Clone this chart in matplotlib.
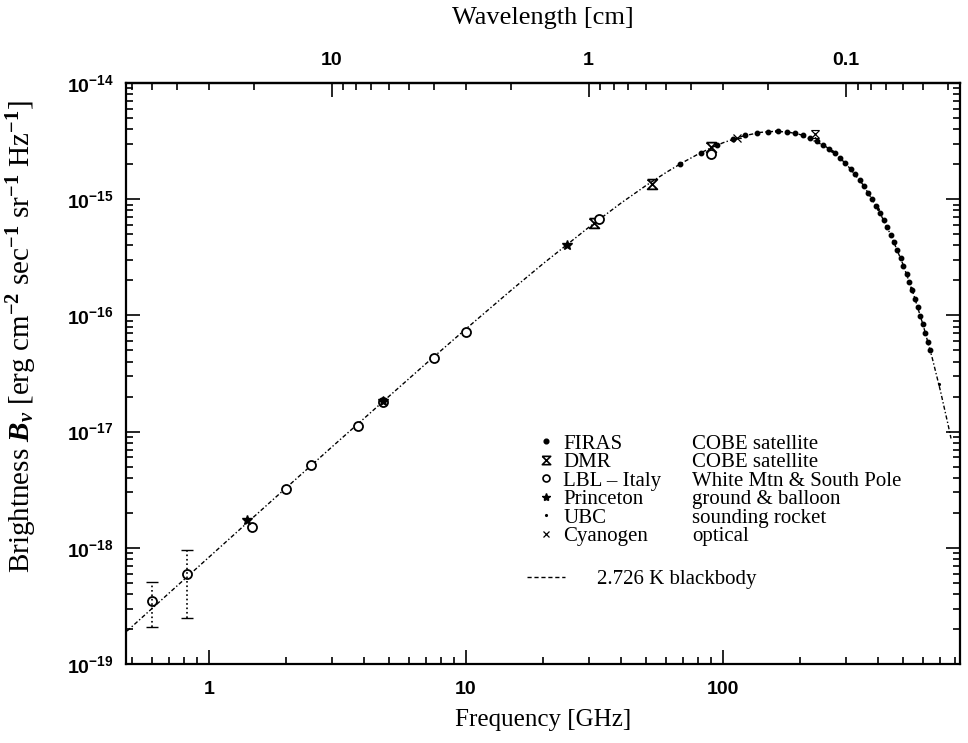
"""Cosmic background spectrum: measured brightness against a 2.726 K blackbody."""

import matplotlib
matplotlib.use("Agg")
import matplotlib.pyplot as plt
import numpy as np
from matplotlib.lines import Line2D
from matplotlib.ticker import FixedLocator, FuncFormatter, LogLocator, NullFormatter


# Section: values (frequency in GHz, brightness in cgs units).
bb_freq = [0.48, 0.7, 1, 1.5, 2, 3, 5, 7, 10, 15, 20, 30, 40, 50, 60, 70, 80, 90, 100,
           120, 140, 160, 180, 200, 250, 300, 350, 400, 450, 500, 550, 600, 650, 700, 750, 770]
bb_bright = [1.92e-19, 4.08e-19, 8.30e-19, 1.86e-18, 3.29e-18, 7.34e-18, 2.00e-17, 3.86e-17,
             7.66e-17, 1.65e-16, 2.80e-16, 5.72e-16, 9.23e-16, 1.306e-15, 1.698e-15, 2.082e-15,
             2.444e-15, 2.773e-15, 3.062e-15, 3.505e-15, 3.760e-15, 3.842e-15, 3.775e-15,
             3.594e-15, 2.860e-15, 2.034e-15, 1.335e-15, 8.26e-16, 4.875e-16, 2.774e-16,
             1.531e-16, 8.24e-17, 4.345e-17, 2.25e-17, 1.148e-17, 8.73e-18]

firas_freq = [68, 82, 95, 109, 122, 136, 150, 163, 177, 190, 204, 218, 231, 245, 258, 272, 286,
              299, 313, 326, 340, 354, 367, 381, 394, 408, 422, 435, 449, 462, 476, 490, 503,
              517, 530, 544, 558, 571, 585, 598, 612, 626, 639]
firas_bright = [2.006e-15, 2.512e-15, 2.922e-15, 3.284e-15, 3.538e-15, 3.724e-15, 3.822e-15,
                3.840e-15, 3.792e-15, 3.697e-15, 3.549e-15, 3.363e-15, 3.169e-15, 2.944e-15,
                2.727e-15, 2.489e-15, 2.259e-15, 2.050e-15, 1.837e-15, 1.648e-15, 1.461e-15,
                1.288e-15, 1.141e-15, 9.97e-16, 8.77e-16, 7.61e-16, 6.58e-16, 5.73e-16,
                4.93e-16, 4.27e-16, 3.65e-16, 3.11e-16, 2.68e-16, 2.27e-16, 1.95e-16,
                1.65e-16, 1.39e-16, 1.18e-16, 9.95e-17, 8.45e-17, 7.08e-17, 5.92e-17, 5.01e-17]

dmr_freq = [31.5, 53.0, 90.0]
dmr_bright = [6.3e-16, 1.35e-15, 2.8e-15]

lbl_freq = [0.6, 0.82, 1.47, 2.0, 2.5, 3.8, 4.75, 7.5, 10.0, 33.0, 90.0]
lbl_bright = [3.5e-19, 6.0e-19, 1.5e-18, 3.2e-18, 5.2e-18, 1.12e-17, 1.8e-17, 4.3e-17,
              7.2e-17, 6.8e-16, 2.45e-15]
# error bar ends for the two lowest-frequency LBL points
lbl_err_low = [2.1e-19, 2.5e-19]
lbl_err_high = [5.1e-19, 9.5e-19]

princeton_freq = [1.41, 4.75, 24.8]
princeton_bright = [1.75e-18, 1.85e-17, 4.0e-16]

ubc_freq = [160, 265, 400, 540, 690]
ubc_bright = [3.84e-15, 2.61e-15, 8.26e-16, 1.73e-16, 2.57e-17]

cn_freq = [113.6, 227.0]
cn_bright = [3.33e-15, 3.65e-15]
cn_err_low = [3.33e-15, 3.35e-15]
cn_err_high = [3.33e-15, 3.95e-15]

legend_names = ["FIRAS", "DMR", "LBL \u2013 Italy", "Princeton", "UBC", "Cyanogen"]
legend_notes = ["COBE satellite", "COBE satellite", "White Mtn & South Pole",
                "ground & balloon", "sounding rocket", "optical"]


# Section: fonts, sans bold for tick numbers and Times-like serif for the labels.
plt.rcParams["font.family"] = "Liberation Sans"
plt.rcParams["font.weight"] = "bold"
plt.rcParams["mathtext.fontset"] = "custom"
plt.rcParams["mathtext.rm"] = "Liberation Serif"
plt.rcParams["mathtext.it"] = "Liberation Serif:italic"
plt.rcParams["mathtext.bf"] = "Liberation Serif:bold"
plt.rcParams["mathtext.sf"] = "Liberation Sans:bold"
SERIF = {"family": "Liberation Serif", "weight": "normal"}

HOURGLASS = [(-1, 1), (1, 1), (-1, -1), (1, -1), (-1, 1)]
CURVE_STYLE = (0, (3, 1.6, 1, 1.6))


# Section: draw the curve, the data points and the error bars.
fig = plt.figure(figsize=(9.68, 7.43), dpi=100)
ax = fig.add_axes([0.1302, 0.1063, 0.8616, 0.7820])
ax.set_xscale("log")
ax.set_yscale("log")

ax.plot(bb_freq, bb_bright, color="black", linewidth=1.0, linestyle=CURVE_STYLE)
ax.plot(firas_freq, firas_bright, linestyle="none", marker="o", markersize=3.2, color="black")
ax.plot(dmr_freq, dmr_bright, linestyle="none", marker=HOURGLASS, markersize=7,
        markerfacecolor="none", markeredgecolor="black", markeredgewidth=1.3)
ax.plot(lbl_freq, lbl_bright, linestyle="none", marker="o", markersize=6.5,
        markerfacecolor="white", markeredgecolor="black", markeredgewidth=1.3)
ax.plot(princeton_freq, princeton_bright, linestyle="none", marker="*", markersize=7, color="black")
ax.plot(ubc_freq, ubc_bright, linestyle="none", marker=".", markersize=2.5, color="black")
ax.plot(cn_freq, cn_bright, linestyle="none", marker="x", markersize=6,
        markeredgewidth=0.9, color="black")

lbl_yerr = [np.array(lbl_bright[:2]) - np.array(lbl_err_low),
            np.array(lbl_err_high) - np.array(lbl_bright[:2])]
eb = ax.errorbar(lbl_freq[:2], lbl_bright[:2], yerr=lbl_yerr, fmt="none", ecolor="black",
                 elinewidth=1.2, capsize=4, capthick=1.0)
eb[2][0].set_linestyle(":")

cn_yerr = [np.array(cn_bright) - np.array(cn_err_low), np.array(cn_err_high) - np.array(cn_bright)]
eb = ax.errorbar(cn_freq, cn_bright, yerr=cn_yerr, fmt="none", ecolor="black",
                 elinewidth=1.0, capsize=3, capthick=0.8)
eb[2][0].set_linestyle(":")


# Section: axes limits, log ticks and labels.
ax.set_xlim(0.476, 835)
ax.set_ylim(1e-19, 1e-14)
for spine in ax.spines.values():
    spine.set_linewidth(1.6)

ax.xaxis.set_major_locator(FixedLocator([1, 10, 100]))
ax.xaxis.set_major_formatter(FuncFormatter(lambda v, _: f"{v:g}"))
ax.xaxis.set_minor_locator(LogLocator(base=10, subs=np.arange(2, 10)))
ax.xaxis.set_minor_formatter(NullFormatter())
ax.yaxis.set_major_locator(LogLocator(base=10, numticks=10))
ax.yaxis.set_major_formatter(FuncFormatter(lambda v, _: r"$\mathsf{10^{%d}}$" % round(np.log10(v))))
ax.yaxis.set_minor_locator(LogLocator(base=10, subs=np.arange(2, 10), numticks=10))
ax.yaxis.set_minor_formatter(NullFormatter())

ax.tick_params(which="both", direction="in", top=False, right=True, width=1.2, labelsize=14)
ax.tick_params(which="major", length=10)
ax.tick_params(which="minor", length=5)
ax.tick_params(axis="x", pad=12)
ax.tick_params(axis="y", pad=9)

secax = ax.secondary_xaxis("top", functions=(lambda f: 30.0 / np.asarray(f, dtype=float),
                                             lambda w: 30.0 / np.asarray(w, dtype=float)))
secax.xaxis.set_major_locator(FixedLocator([10, 1, 0.1]))
secax.xaxis.set_major_formatter(FuncFormatter(lambda v, _: f"{v:g}"))
secax.xaxis.set_minor_locator(LogLocator(base=10, subs=np.arange(2, 10)))
secax.xaxis.set_minor_formatter(NullFormatter())
secax.tick_params(which="both", direction="in", width=1.2, labelsize=14, pad=10)
secax.tick_params(which="major", length=10)
secax.tick_params(which="minor", length=5)
secax.spines["top"].set_linewidth(1.6)

ax.set_xlabel("Frequency [GHz]", fontsize=18, labelpad=8, **SERIF)
secax.set_xlabel("Wavelength [cm]", fontsize=19, labelpad=20, **SERIF)
ax.set_ylabel(r"Brightness $B_\nu$ [erg cm$^{-2}$ sec$^{-1}$ sr$^{-1}$ Hz$^{-1}$]",
              fontsize=21, **SERIF)
ax.yaxis.set_label_coords(-0.104, 0.563)


# Section: legend in three pieces so the names and notes line up in columns.
marker_handles = [
    Line2D([], [], linestyle="none", marker="o", markersize=3.4, color="black"),
    Line2D([], [], linestyle="none", marker=HOURGLASS, markersize=6, markerfacecolor="none",
           markeredgecolor="black", markeredgewidth=1.2),
    Line2D([], [], linestyle="none", marker="o", markersize=5, markerfacecolor="white",
           markeredgecolor="black", markeredgewidth=1.2),
    Line2D([], [], linestyle="none", marker="*", markersize=6, color="black"),
    Line2D([], [], linestyle="none", marker=".", markersize=2.5, color="black"),
    Line2D([], [], linestyle="none", marker="x", markersize=5, markeredgewidth=0.9, color="black"),
]
blank_handles = [Line2D([], [], linestyle="none") for _ in legend_notes]
legend_font = {"family": "Liberation Serif", "weight": "normal", "size": 15}
common = dict(loc="upper left", frameon=False, prop=legend_font, borderpad=0,
              borderaxespad=0, labelspacing=-0.05)

names_legend = ax.legend(marker_handles, legend_names, bbox_to_anchor=(0.4916, 0.396),
                         handlelength=1.0, handletextpad=0.3, **common)
ax.add_artist(names_legend)
notes_legend = ax.legend(blank_handles, legend_notes, bbox_to_anchor=(0.679, 0.396),
                         handlelength=0, handletextpad=0, **common)
ax.add_artist(notes_legend)
bb_handle = Line2D([], [], color="black", linewidth=1.0, linestyle=(0, (3, 2)))
ax.legend([bb_handle], ["2.726 K blackbody"], bbox_to_anchor=(0.481, 0.163),
          handlelength=1.83, handletextpad=1.5, **common)

fig.savefig("out.png", dpi=100)
